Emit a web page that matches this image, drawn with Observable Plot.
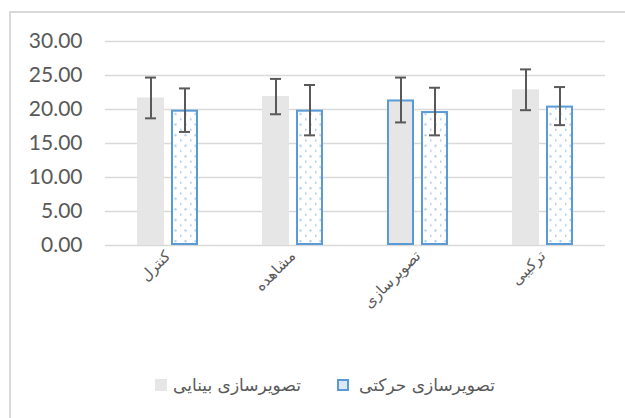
<!DOCTYPE html>
<html>
<head>
<meta charset="utf-8">
<script src="https://cdn.jsdelivr.net/npm/d3@7"></script>
<script src="https://cdn.jsdelivr.net/npm/@observablehq/plot@0.6"></script>
<style>
  html, body { margin: 0; padding: 0; background: #fff; }
  #wrap { position: relative; width: 625px; height: 418px; overflow: hidden; font-family: Lato, "DejaVu Sans", sans-serif; }
  #frame { position: absolute; left: 9px; top: 11px; width: 640px; height: 430px; border-top: 2px solid #d9d9d9; border-left: 2px solid #d9d9d9; box-sizing: border-box; }
  #chart { position: absolute; left: 0; top: 0; }
  .leg { position: absolute; top: 372px; height: 26px; display: flex; align-items: center; font-family: "DejaVu Sans", sans-serif; font-size: 17px; color: #595959; direction: rtl; white-space: nowrap; }
  .sw { position: absolute; width: 12px; height: 12px; top: 379px; box-sizing: border-box; }
</style>
</head>
<body>
<div id="wrap">
  <div id="frame"></div>
  <div id="chart"></div>
  <div class="sw" id="sw0" style="left:155px; background:#e7e6e6;"></div>
  <div class="leg" id="lg0" style="left:174px; width:126px; justify-content:center;"></div>
  <div class="sw" id="sw1" style="left:337px; border:2px solid #5b9bd5; background:#dbe8f6;"></div>
  <div class="leg" id="lg1" style="left:355px; width:144px; justify-content:center;"></div>
</div>
<script>
const categories = ["کنترل", "مشاهده", "تصویرسازی", "ترکیبی"];
const seriesNames = ["تصویرسازی بینایی", "تصویرسازی حرکتی"];
const visualMeans = [21.7, 21.9, 21.4, 22.9];
const visualErr = [3.0, 2.6, 3.3, 3.0];
const motorMeans = [19.9, 19.9, 19.7, 20.5];
const motorErr = [3.2, 3.7, 3.5, 2.8];
const yTicks = [0, 5, 10, 15, 20, 25, 30];

const rows = categories.flatMap((c, i) => [
  {category: c, series: seriesNames[0], mean: visualMeans[i], err: visualErr[i]},
  {category: c, series: seriesNames[1], mean: motorMeans[i], err: motorErr[i]}
]);

const gray = "#e7e6e6", blue = "#5b9bd5", dark = "#595959";
const isVisual = d => d.series === seriesNames[0];

const svg = Plot.plot({
  width: 625,
  height: 350,
  marginLeft: 105,
  marginRight: 20,
  marginTop: 41,
  marginBottom: 105,
  style: {fontFamily: "Lato, 'DejaVu Sans', sans-serif", color: dark, background: "transparent", overflow: "visible"},
  fx: {domain: categories, paddingInner: 0, paddingOuter: 0, label: null},
  x: {domain: seriesNames, paddingInner: 0.2, paddingOuter: 0.886, axis: null},
  y: {domain: [0, 30], label: null},
  marks: [
    Plot.gridY(yTicks, {stroke: "#d9d9d9", strokeOpacity: 1, strokeWidth: 1.5}),
    Plot.axisY(yTicks, {tickFormat: d => d.toFixed(2), tickSize: 0, tickPadding: 23, fontSize: 21, label: null, fill: dark}),
    Plot.axisFx({anchor: "bottom", tickRotate: -45, tickSize: 0, tickPadding: 8, fontSize: 15, label: null, fill: dark, fontFamily: "'DejaVu Sans', sans-serif"}),
    Plot.barY(rows.filter(d => isVisual(d) && d.category !== categories[2]), {fx: "category", x: "series", y: "mean", fill: gray}),
    Plot.barY(rows.filter(d => isVisual(d) && d.category === categories[2]), {fx: "category", x: "series", y: "mean", fill: gray, stroke: blue, strokeWidth: 2, inset: 1}),
    Plot.barY(rows.filter(d => !isVisual(d)), {fx: "category", x: "series", y: "mean", fill: "url(#dots)", stroke: blue, strokeWidth: 2, inset: 1}),
    Plot.ruleX(rows, {fx: "category", x: "series", y1: d => d.mean - d.err, y2: d => d.mean + d.err, stroke: dark, strokeWidth: 2}),
    Plot.tickY(rows, {fx: "category", x: "series", y: d => d.mean - d.err, stroke: dark, strokeWidth: 2, insetLeft: 8, insetRight: 8}),
    Plot.tickY(rows, {fx: "category", x: "series", y: d => d.mean + d.err, stroke: dark, strokeWidth: 2, insetLeft: 8, insetRight: 8})
  ]
});

d3.select(svg).insert("defs", ":first-child").html(`
  <pattern id="dots" patternUnits="userSpaceOnUse" x="0" y="0" width="10" height="10.6">
    <rect width="10" height="10.6" fill="#ffffff"></rect>
    <circle cx="0.5" cy="2.6" r="1.2" fill="#b4d0ec"></circle>
    <circle cx="5.5" cy="7.9" r="1.2" fill="#b4d0ec"></circle>
  </pattern>`);

document.getElementById("chart").appendChild(svg);
document.getElementById("lg0").textContent = seriesNames[0];
document.getElementById("lg1").textContent = seriesNames[1];
</script>
</body>
</html>
